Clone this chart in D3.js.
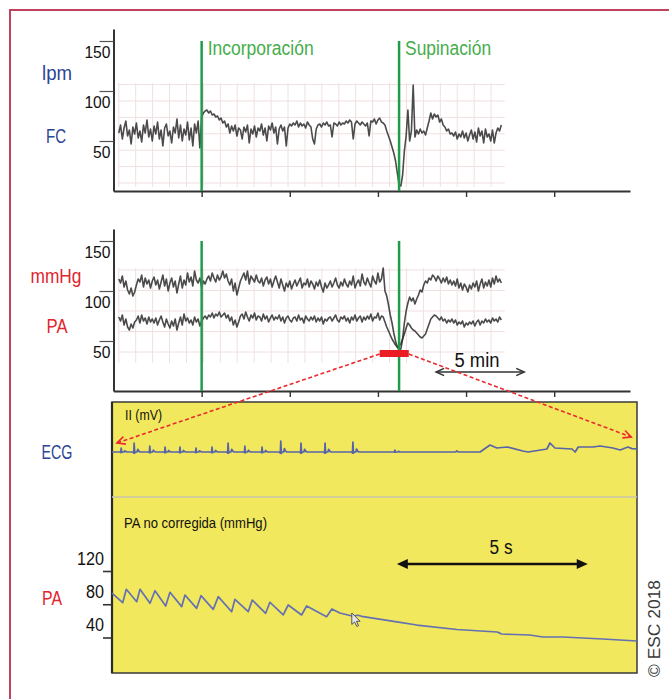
<!DOCTYPE html>
<html>
<head>
<meta charset="utf-8">
<script src="https://cdn.jsdelivr.net/npm/d3@7"></script>
<style>
  body { margin: 0; background: #fff; }
  svg { display: block; }
  svg text { font-family: 'Liberation Sans', Arial, Helvetica, sans-serif; }
</style>
</head>
<body>
<svg id="fig" width="669" height="699"></svg>
<script>
// ---------- Trend recordings (minutes) ----------
const trendStartMin = 0.3;     // first sample
const trendStepMin = 0.1;      // sampling interval
const trendTicksMin = [5, 10, 15, 20, 25];
const eventMin = [5.0, 16.2];
const eventLabels = ["Incorporación", "Supinación"];
const zoomWindowMin = [15.1, 16.75];
const scaleBarMin = [18.3, 23.3];

// heart rate, bpm
const fcBpm = [
  58,66,52,63,70,55,61,47,64,57,
  68,53,60,49,66,58,71,54,62,50,
  65,57,69,52,61,45,63,67,55,60,
  48,64,58,72,53,66,50,62,56,69,
  51,63,45,67,58,70,43,74,78,80,
  81,78,80,76,77,74,75,71,73,68,
  70,64,67,58,65,60,66,55,63,61,
  52,64,59,66,48,62,57,65,54,63,
  60,67,56,63,50,65,61,68,58,64,
  47,62,66,60,64,45,63,67,65,68,
  66,70,64,68,65,67,63,69,66,64,
  52,47,62,66,67,64,68,66,69,65,
  66,54,68,67,65,69,66,68,67,70,
  68,71,69,52,67,70,68,66,69,67,
  65,68,55,70,69,72,67,71,73,69,
  68,66,60,55,50,44,38,30,18,6,
  5,16,40,55,81,50,60,106,54,61,
  57,62,58,60,56,63,70,78,72,77,
  74,76,69,72,66,64,60,62,57,58,
  55,59,52,57,54,60,53,58,50,56,
  61,52,59,49,63,55,60,48,62,54,
  57,50,61,48,58,63,60,66
];

// systolic pressure, mmHg
const paSys = [
  112,108,115,104,110,101,97,103,95,99,
  106,112,109,116,104,113,107,111,103,110,
  114,106,111,102,109,116,105,112,100,108,
  113,104,110,98,107,115,103,111,106,118,
  109,114,105,120,111,108,113,104,110,107,
  112,115,110,118,113,109,116,111,114,120,
  113,117,110,106,112,100,108,96,103,110,
  114,118,111,120,107,115,112,109,116,110,
  108,113,105,111,114,107,112,104,110,115,
  109,103,112,106,100,108,104,110,102,107,
  111,105,109,113,103,108,106,112,104,110,
  107,102,109,105,111,104,99,108,103,106,
  110,104,108,113,106,103,109,105,112,107,
  104,110,106,115,103,108,111,105,117,109,
  106,113,108,104,115,110,107,118,109,112,
  123,100,95,86,76,68,58,50,44,41,
  42,52,68,80,88,94,90,93,87,92,
  96,101,99,106,110,108,113,111,116,114,
  110,115,112,108,113,109,114,107,111,106,
  110,105,112,103,108,101,107,104,99,106,
  102,108,104,110,100,107,112,103,109,105,
  111,104,113,107,115,109,112,108
];

// diastolic pressure, mmHg
const paDia = [
  74,70,76,66,72,64,61,67,63,69,
  71,75,68,76,70,73,67,74,69,72,
  68,73,66,71,75,69,64,72,67,63,
  70,65,72,61,68,74,66,77,70,73,
  68,71,66,74,69,72,65,70,73,75,
  72,76,74,78,73,77,75,79,74,76,
  78,73,76,70,74,66,71,64,69,75,
  77,72,79,74,70,76,73,78,71,75,
  74,70,77,72,75,69,73,76,71,74,
  72,76,70,74,68,73,75,71,69,73,
  74,70,76,71,73,68,75,72,70,74,
  71,75,69,73,70,74,67,72,70,73,
  74,70,73,76,71,69,74,72,75,70,
  73,68,74,71,76,70,73,75,69,74,
  71,75,72,77,70,74,73,78,71,75,
  74,69,64,60,56,52,49,46,44,45,
  47,52,57,63,68,66,63,61,60,58,
  56,54,53,55,57,62,67,72,74,76,
  75,73,71,74,70,72,68,71,69,72,
  68,71,66,69,67,70,64,68,66,69,
  67,70,65,69,71,66,70,68,72,69,
  71,68,73,70,72,69,74,71
];

const trendTicks = [50, 100, 150];

// ---------- Detail recording (seconds) ----------
const ecgBeatSec = [0.24,0.58,0.99,1.39,1.78,2.20,2.62,3.04,3.48,3.93,4.42,4.95,5.58,6.31,7.41];
const ecgBeatMv  = [0.2,0.45,0.3,0.25,0.25,0.2,0.25,0.45,0.3,0.25,0.55,0.45,0.45,0.5,0.1];
const ecgTailSec = [7.7,9.0,9.03,9.07,9.64,9.9,10.08,10.35,10.76,10.9,11.39,11.47,11.6,12.05,12.13,12.21,12.6,12.78,13.12,13.31,13.51,13.62,13.75];
const ecgTailMv  = [0,0,0.06,0,0,0.35,0.2,0.25,0.05,0,0.15,0.45,0.2,0.15,0,0.25,0.25,0.3,0.2,0.1,0.25,0.17,0.15];

const paRawSec = [0,0.28,0.374,0.647,0.733,0.995,1.126,1.406,1.518,1.825,1.911,2.217,2.330,2.652,2.783,3.134,3.220,3.568,3.673,4.024,4.136,4.484,4.615,4.966,5.097,5.620,5.759,5.968,6.283,6.44,6.54,7.461,7.984,9.031,10.079,10.15,10.2,10.942,11.283,11.806,12.853,13.743];
const paRawMmHg = [93.5,81.9,98,83.1,98,81.2,96.3,77.9,94.4,77.1,91.1,75.1,90.3,73.9,89.1,71,86,71,85.1,69.1,82.4,67.1,79.1,67.1,77.9,65,74.3,69.5,65.9,66.8,65.5,58.7,55,49.6,46.6,45.5,44.2,43,40.6,40.6,38.2,35.8];
const paRawTicks = [40, 80, 120];
const scaleBarSec = [7.46, 12.46];

// ---------- drawing ----------
const svg = d3.select("#fig");
const BLUE = "#2c4596", RED = "#e0262e", GREEN = "#1f9b4a", GREEN_TXT = "#46ad4c";

const xMin = d3.scaleLinear().domain([0, 29.3]).range([113.5, 630]);
const yFC  = d3.scaleLinear().domain([0, 162]).range([191, 29]);
const yPA  = d3.scaleLinear().domain([0, 162]).range([391, 229]);
const xSec = d3.scaleLinear().domain([0, 13.75]).range([112, 637]);
const yECG = d3.scaleLinear().domain([-1, 1]).range([472, 432]);
const yRaw = d3.scaleLinear().domain([40, 120]).range([637.5, 571]);

const tMin = i => trendStartMin + i * trendStepMin;

// condensed lettering: glyphs squeezed to the given advance width
function label(parent, str, x, y, size, color, width, anchor = "start") {
  return parent.append("text").attr("x", x).attr("y", y)
    .attr("font-size", size).attr("fill", color).attr("text-anchor", anchor)
    .attr("textLength", width).attr("lengthAdjust", "spacingAndGlyphs").text(str);
}

// outer frame
svg.append("path").attr("d", "M10,699V10H669").attr("fill", "none")
  .attr("stroke", "#c2435e").attr("stroke-width", 2);

function trendPanel(y, gridVals, gridLo, gridHi, series) {
  const g = svg.append("g");
  const grid = g.append("g").attr("stroke", "#f0e0e0").attr("stroke-width", 1);
  d3.range(0.3, 22.3, 0.96).forEach(t => {
    grid.append("line").attr("x1", xMin(t)).attr("x2", xMin(t))
      .attr("y1", y(gridHi)).attr("y2", y(gridLo));
  });
  gridVals.forEach(v => {
    grid.append("line").attr("x1", xMin(0.25)).attr("x2", xMin(22.2))
      .attr("y1", y(v)).attr("y2", y(v));
  });

  series.forEach(vals => {
    g.append("path").datum(vals)
      .attr("d", d3.line().x((d, i) => xMin(tMin(i))).y(d => y(d)))
      .attr("fill", "none").attr("stroke", "#2b2b2b").attr("stroke-width", 1.6)
      .attr("stroke-linejoin", "round").attr("opacity", 0.85);
  });

  const ax = g.append("g").attr("transform", `translate(0,${y(0)})`)
    .call(d3.axisBottom(xMin).tickValues(trendTicksMin).tickSize(6).tickSizeOuter(0).tickFormat(""));
  ax.select(".domain").attr("stroke", "#333").attr("stroke-width", 2);
  ax.selectAll(".tick line").attr("stroke", "#333").attr("stroke-width", 1.4);

  const ay = g.append("g").attr("transform", `translate(${xMin(0)},0)`)
    .call(d3.axisLeft(y).tickValues(trendTicks).tickSize(14).tickSizeOuter(0));
  ay.attr("font-family", null);
  ay.select(".domain").attr("stroke", "#333").attr("stroke-width", 2);
  ay.selectAll(".tick line").attr("stroke", "#555").attr("stroke-width", 1.2);
  ay.selectAll(".tick text").attr("font-size", 17).attr("fill", "#111")
    .attr("x", -3).attr("y", 16).attr("dy", 0)
    .attr("textLength", d => String(d).length * 8.7).attr("lengthAdjust", "spacingAndGlyphs");

  // event markers
  eventMin.forEach(t => {
    g.append("line").attr("x1", xMin(t)).attr("x2", xMin(t))
      .attr("y1", y(150)).attr("y2", y(0))
      .attr("stroke", GREEN).attr("stroke-width", 2.5);
  });
  return g;
}

trendPanel(yFC, d3.range(8, 110, 16.4), 4, 108, [fcBpm]);
trendPanel(yPA, d3.range(39, 125, 20.5), 28, 123, [paSys, paDia]);

// event labels
const eventWidths = [106, 86];
eventMin.forEach((t, k) => {
  label(svg, eventLabels[k], xMin(t) + 6, 55, 20, GREEN_TXT, eventWidths[k]);
});

// side labels
const side = [
  ["lpm", 57, 80, BLUE, 30], ["FC", 56, 143, BLUE, 20],
  ["mmHg", 56, 283, RED, 51], ["PA", 57, 333, RED, 21],
  ["ECG", 57, 459, BLUE, 31], ["PA", 52, 605, RED, 20]
];
side.forEach(([s, x, yy, c, w]) => label(svg, s, x, yy, 20, c, w, "middle"));

// 5 min scale bar
function openHead(g, x, y, dir, len, color, w) {
  g.append("path")
    .attr("d", `M${x - dir * len},${y - len * 0.45}L${x},${y}L${x - dir * len},${y + len * 0.45}`)
    .attr("fill", "none").attr("stroke", color).attr("stroke-width", w);
}
{
  const yb = yPA(19);
  const x0 = xMin(scaleBarMin[0]), x1 = xMin(scaleBarMin[1]);
  svg.append("line").attr("x1", x0).attr("x2", x1).attr("y1", yb).attr("y2", yb)
    .attr("stroke", "#333").attr("stroke-width", 1.5);
  openHead(svg, x0, yb, -1, 8, "#333", 1.5);
  openHead(svg, x1, yb, 1, 8, "#333", 1.5);
  label(svg, "5 min", 477, 367, 19.5, "#111", 45, "middle");
}

// detail panel
const det = svg.append("g");
det.append("rect").attr("x", xSec(0)).attr("y", 402).attr("width", xSec(13.75) - xSec(0)).attr("height", 271)
  .attr("fill", "#f2e85e").attr("stroke", "#3a3a3a").attr("stroke-width", 1.5);
det.append("line").attr("x1", xSec(0)).attr("x2", xSec(0)).attr("y1", 402).attr("y2", 673)
  .attr("stroke", "#2a2a2a").attr("stroke-width", 2.2);
det.append("line").attr("x1", xSec(0)).attr("x2", xSec(13.75)).attr("y1", 497).attr("y2", 497)
  .attr("stroke", "#c9c4ae").attr("stroke-width", 1.5);

label(det, "II (mV)", 125, 420, 14.5, "#111", 37);
label(det, "PA no corregida (mmHg)", 124, 528, 14.5, "#111", 143);

// ECG trace: each beat drawn with the same QRS-T outline scaled to its R amplitude
const beatShape = [[-0.03, 0], [-0.012, -0.12], [0, 1], [0.016, -0.12], [0.03, 0], [0.075, 0], [0.095, 0.3], [0.125, 0.08], [0.16, 0]];
const ecgPts = [[0, 0]];
ecgBeatSec.forEach((t, k) => beatShape.forEach(([dt, f]) => ecgPts.push([t + dt, f * ecgBeatMv[k]])));
ecgTailSec.forEach((t, k) => ecgPts.push([t, ecgTailMv[k]]));
det.append("path").datum(ecgPts)
  .attr("d", d3.line().x(d => xSec(d[0])).y(d => yECG(d[1])))
  .attr("fill", "none").attr("stroke", "#5864a8").attr("stroke-width", 1.7).attr("stroke-linejoin", "round");

// non-corrected arterial pressure
det.append("path").datum(paRawSec.map((t, i) => [t, paRawMmHg[i]]))
  .attr("d", d3.line().x(d => xSec(d[0])).y(d => yRaw(d[1])))
  .attr("fill", "none").attr("stroke", "#6470b2").attr("stroke-width", 1.7).attr("stroke-linejoin", "round");

const ar = det.append("g").attr("transform", `translate(${xSec(0)},0)`)
  .call(d3.axisLeft(yRaw).tickValues(paRawTicks).tickSize(9).tickSizeOuter(0));
ar.attr("font-family", null);
ar.select(".domain").remove();
ar.selectAll(".tick line").attr("stroke", "#333").attr("stroke-width", 1.6);
ar.selectAll(".tick text").attr("font-size", 18).attr("fill", "#111")
  .attr("x", -8).attr("y", -7).attr("dy", 0)
  .attr("textLength", d => String(d).length * 9).attr("lengthAdjust", "spacingAndGlyphs");

// mouse pointer left on the recording
{
  const px = xSec(6.28), py = yRaw(69.5);
  det.append("path").attr("transform", `translate(${px},${py})`)
    .attr("d", "M0,0L0,11.5L2.8,9L5,13.5L6.8,12.7L4.7,8.3L8.3,8.3Z")
    .attr("fill", "#e6e6e6").attr("stroke", "#555").attr("stroke-width", 1);
}

// 5 s scale bar
{
  const yb = yRaw(128.4);
  const x0 = xSec(scaleBarSec[0]), x1 = xSec(scaleBarSec[1]);
  det.append("line").attr("x1", x0 + 6).attr("x2", x1 - 6).attr("y1", yb).attr("y2", yb)
    .attr("stroke", "#111").attr("stroke-width", 2.5);
  det.append("path").attr("d", `M${x0},${yb}L${x0 + 11},${yb - 5}L${x0 + 11},${yb + 5}Z`).attr("fill", "#111");
  det.append("path").attr("d", `M${x1},${yb}L${x1 - 11},${yb - 5}L${x1 - 11},${yb + 5}Z`).attr("fill", "#111");
  label(det, "5 s", 501, 554, 20, "#111", 23, "middle");
}

// zoom window on the pressure trend and its links to the detail panel
{
  const xa = xMin(zoomWindowMin[0]), xb = xMin(zoomWindowMin[1]);
  const ys = yPA(37);
  const links = [
    [xa, ys, xSec(0.13), yECG(0.45)],
    [xb, ys, xSec(13.6), yECG(0.75)]
  ];
  links.forEach(([x0, y0, x1, y1]) => {
    svg.append("line").attr("x1", x0).attr("y1", y0).attr("x2", x1).attr("y2", y1)
      .attr("stroke", "#ea2a2f").attr("stroke-width", 1.6).attr("stroke-dasharray", "4,2.5");
    const a = Math.atan2(y1 - y0, x1 - x0), L = 9, s = 0.45;
    svg.append("path")
      .attr("d", `M${x1 - L * Math.cos(a - s)},${y1 - L * Math.sin(a - s)}L${x1},${y1}L${x1 - L * Math.cos(a + s)},${y1 - L * Math.sin(a + s)}`)
      .attr("fill", "none").attr("stroke", "#ea2a2f").attr("stroke-width", 1.6);
  });
  svg.append("rect").attr("x", xa).attr("y", yPA(41)).attr("width", xb - xa).attr("height", yPA(34) - yPA(41))
    .attr("fill", "#ea1c24");
}

// copyright
label(svg.append("g").attr("transform", "translate(660,677) rotate(-90)"),
  "© ESC 2018", 0, 0, 17, "#3a3a3a", 97);
</script>
</body>
</html>
